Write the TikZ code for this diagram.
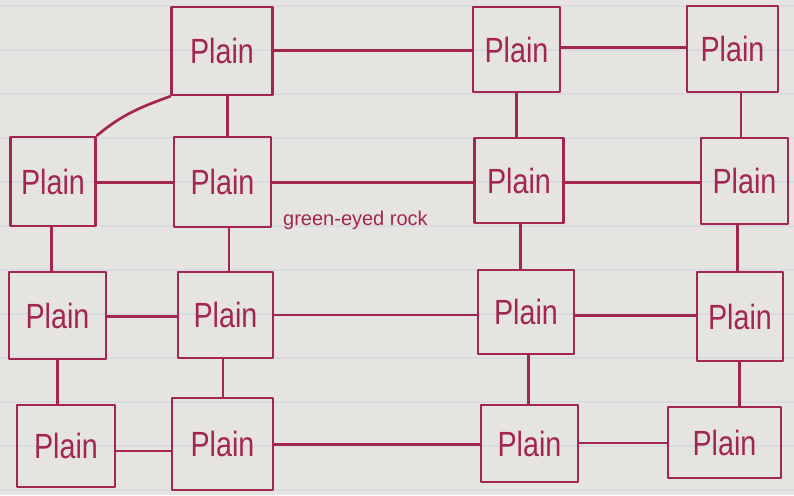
\documentclass[tikz,border=0pt]{standalone}
\usepackage{fontspec}
\usetikzlibrary{calc}
\setmainfont{Liberation Sans}
\definecolor{paper}{HTML}{E6E4E0}
\definecolor{rule}{HTML}{D8DCE0}
\definecolor{ink}{HTML}{A3264F}
\begin{document}
\begin{tikzpicture}[x=1pt,y=-1pt,
  ink/.style={draw=ink, line width=2.7pt, line cap=round, line join=round},
  plainbox/.style={ink, rectangle, inner sep=0pt, text=ink,
    font=\fontsize{35}{35}\selectfont},
  tag/.style={text=ink, inner sep=0pt, font=\fontsize{20}{20}\selectfont}]
\useasboundingbox (0,0) rectangle (794,495);
\fill[paper] (0,0) rectangle (794,495);
\foreach \k in {0,...,11} {
  \draw[rule, line width=1.2pt] (0,{6+44*\k}) -- (794,{6+44*\k});
}
\newcommand{\pl}{\scalebox{0.82}[1]{Plain}}
% vertical connector between #1 (above) and #2 (below), x-shift #3
\newcommand{\vcon}[3]{%
  \coordinate (vm) at ($(#1)!0.5!(#2)+(#3,0)$);
  \draw[ink] (vm |- #1.south) -- (vm |- #2.north);}
% horizontal connector between #1 (left) and #2 (right), y-shift #3
\newcommand{\hcon}[3]{%
  \coordinate (hm) at ($(#1)!0.5!(#2)+(0,#3)$);
  \draw[ink] (hm -| #1.east) -- (hm -| #2.west);}
% row 1
\node[plainbox, minimum width=101, minimum height=88] (A1) at (222,51) {\pl};
\node[plainbox, minimum width=87, minimum height=85] (A2) at (516.5,49.5) {\pl};
\node[plainbox, minimum width=91, minimum height=86] (A3) at (732.5,49) {\pl};
% row 2
\node[plainbox, minimum width=85, minimum height=89] (B0) at (53,181.5) {\pl};
\node[plainbox, minimum width=97, minimum height=90] (B1) at (222.5,182) {\pl};
\node[plainbox, minimum width=89, minimum height=85] (B2) at (519,180.5) {\pl};
\node[plainbox, minimum width=87, minimum height=86] (B3) at (744.5,181) {\pl};
% row 3
\node[plainbox, minimum width=97, minimum height=87] (C0) at (57.5,315.5) {\pl};
\node[plainbox, minimum width=95, minimum height=86] (C1) at (225.5,315) {\pl};
\node[plainbox, minimum width=96, minimum height=84] (C2) at (526,312) {\pl};
\node[plainbox, minimum width=86, minimum height=89] (C3) at (740,316.5) {\pl};
% row 4
\node[plainbox, minimum width=98, minimum height=82] (D0) at (66,446) {\pl};
\node[plainbox, minimum width=101, minimum height=92] (D1) at (222.5,444) {\pl};
\node[plainbox, minimum width=97, minimum height=77] (D2) at (529.5,443.5) {\pl};
\node[plainbox, minimum width=113, minimum height=71] (D3) at (724.5,442.5) {\pl};
% label
\node[tag, anchor=base west] (lbl) at (283,225) {green-eyed rock};
% horizontal connectors
\hcon{A1}{A2}{0}
\hcon{A2}{A3}{-2}
\hcon{B0}{B1}{1}
\hcon{B1}{B2}{1}
\hcon{B2}{B3}{2}
\hcon{C0}{C1}{1}
\hcon{C1}{C2}{1.5}
\hcon{C2}{C3}{1}
\hcon{D0}{D1}{6}
\hcon{D1}{D2}{1}
\hcon{D2}{D3}{0}
% vertical connectors
\vcon{A1}{B1}{5.5}
\vcon{A2}{B2}{-1}
\vcon{A3}{B3}{2.5}
\vcon{B0}{C0}{-4}
\vcon{B1}{C1}{5}
\vcon{B2}{C2}{-2}
\vcon{B3}{C3}{-5}
\vcon{C0}{D0}{-4}
\vcon{C1}{D1}{-1}
\vcon{C2}{D2}{1}
\vcon{C3}{D3}{7}
% curved connector
\draw[ink] (A1.south west) to[out=200, in=40] (B0.north east);
\end{tikzpicture}
\end{document}
